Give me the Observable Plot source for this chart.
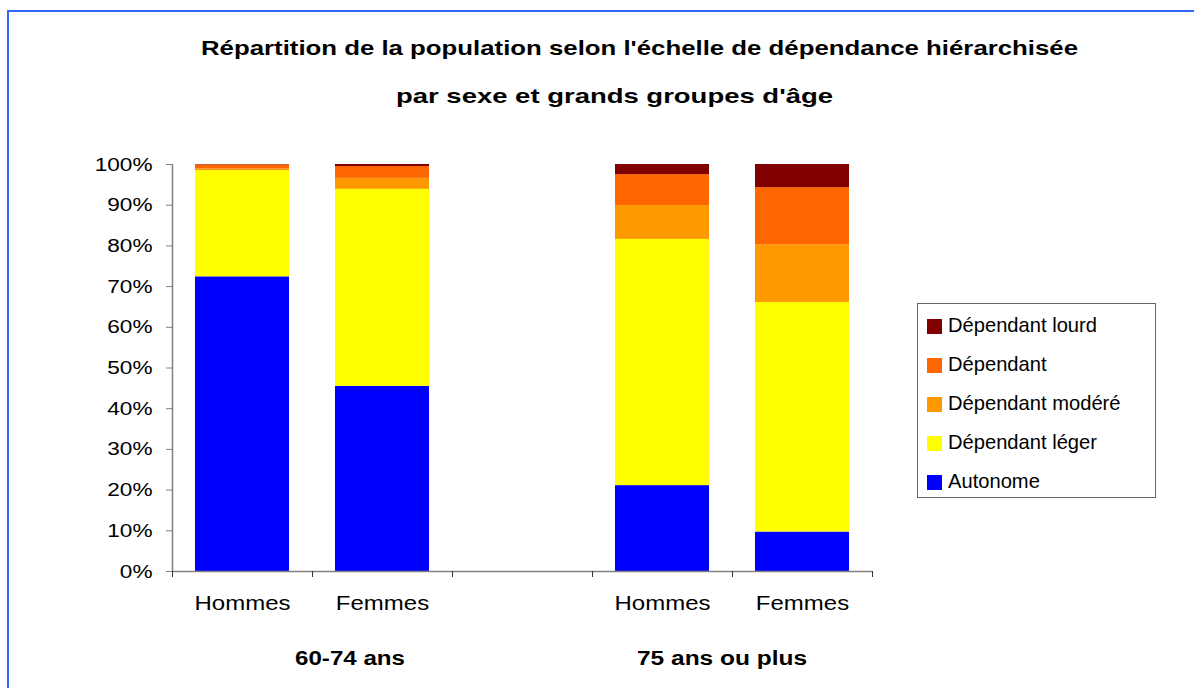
<!DOCTYPE html>
<html>
<head>
<meta charset="utf-8">
<script src="https://cdn.jsdelivr.net/npm/d3@7"></script>
<script src="https://cdn.jsdelivr.net/npm/@observablehq/plot@0.6"></script>
<style>
  html, body { margin: 0; padding: 0; background: #fff; }
  body { width: 1194px; height: 688px; position: relative; overflow: hidden;
         font-family: "Liberation Sans", Arial, sans-serif; }
  #frame { position: absolute; left: 7px; top: 10px; width: 1300px; height: 800px;
           border-top: 2px solid #3366FF; border-left: 2px solid #3366FF; z-index: 3; pointer-events: none; }
  #chart { position: absolute; left: 0; top: 0; }
  .txt { position: absolute; white-space: nowrap; line-height: 1; transform-origin: 0 50%; color: #000; z-index: 2; }
  .bold { font-weight: bold; }
  #legend { position: absolute; left: 917px; top: 303px; width: 239px; height: 195px;
            border: 1px solid #666; box-sizing: border-box; background: #fff; z-index: 2; }
  .sw { position: absolute; width: 15px; height: 15px; }
</style>
</head>
<body>
<div id="chart"></div>
<div id="frame"></div>
<script>
// ---- data ----
const groups = ["60-74 ans", "60-74 ans", "75 ans ou plus", "75 ans ou plus"];
const sexes = ["Hommes", "Femmes", "Hommes", "Femmes"];
const levels = ["Autonome", "Dépendant léger", "Dépendant modéré", "Dépendant", "Dépendant lourd"];
const colors = ["#0000FF", "#FFFF00", "#FF9900", "#FF6600", "#800000"];
const autonome  = [72.4, 45.5, 21.1, 9.7];
const leger     = [26.1, 48.4, 60.5, 56.4];
const modere    = [0.4, 2.7, 8.3, 14.2];
const dependant = [1.0, 2.9, 7.6, 14.0];
const lourd     = [0.1, 0.5, 2.5, 5.7];
const yTicks = [0, 10, 20, 30, 40, 50, 60, 70, 80, 90, 100];
const title1 = "Répartition de la population selon l'échelle de dépendance hiérarchisée";
const title2 = "par sexe et grands groupes d'âge";
const groupLabels = ["60-74 ans", "75 ans ou plus"];

// ---- build table ----
const series = [autonome, leger, modere, dependant, lourd];
const cats = sexes.map((s, i) => groups[i] + "|" + s);
const domain = [cats[0], cats[1], "gap", cats[2], cats[3]];
const rows = [];
cats.forEach((c, i) => levels.forEach((l, j) => rows.push({cat: c, level: l, value: series[j][i]})));

const W = 1194, H = 688, mL = 172, mR = 322, mT = 164, mB = 117;
const step = (W - mL - mR) / domain.length;
const axisGray = "#808080";

const plot = Plot.plot({
  width: W, height: H,
  marginLeft: mL, marginRight: mR, marginTop: mT, marginBottom: mB,
  style: {fontFamily: '"Liberation Sans", Arial, sans-serif', fontSize: "19px", background: "transparent", color: "#000"},
  x: {domain, paddingInner: 0.33, paddingOuter: 0.165, align: 0.5, label: null},
  y: {domain: [0, 100], label: null},
  color: {domain: levels, range: colors},
  marks: [
    Plot.barY(rows, {x: "cat", y: "value", fill: "level"}),
    Plot.ruleY([0], {stroke: axisGray, strokeWidth: 1.5}),
    Plot.ruleX([domain[0]], {dx: -step / 2, y1: 0, y2: 100, stroke: axisGray, strokeWidth: 1.5}),
    Plot.ruleX(domain, {x: d => d, dx: -step / 2, y1: 0, y2: 0, insetBottom: -6, stroke: "#333"}),
    Plot.ruleX([domain[domain.length - 1]], {dx: step / 2, y1: 0, y2: 0, insetBottom: -6, stroke: "#333"}),
    Plot.axisY({ticks: yTicks, tickFormat: d => d + "%", tickSize: 6, tickPadding: 14, stroke: axisGray, fontSize: 19}),
    Plot.axisX({tickSize: 0, tickPadding: 24, fontSize: 20, tickFormat: d => d === "gap" ? "" : d.split("|")[1]})
  ]
});
document.getElementById("chart").appendChild(plot);

// stretch SVG tick labels horizontally to match the wide rendering of the reference
function stretch(label, refText, targetW) {
  const texts = [...plot.querySelectorAll(`[aria-label="${label}"] text`)];
  const ref = texts.find(t => t.textContent === refText);
  if (!ref) return;
  const k = targetW / ref.getBBox().width;
  texts.forEach(t => {
    const x = +t.getAttribute("x") || 0;
    if (x) t.removeAttribute("x");
    const tr = t.getAttribute("transform") || "";
    t.setAttribute("transform", `${tr} translate(${x},0) scale(${k},1)`);
  });
}
stretch("y-axis tick label", "100%", 58);
stretch("x-axis tick label", "Hommes", 96);

// ---- HTML texts ----
function addText(str, left, cy, fs, targetW, bold) {
  const el = document.createElement("div");
  el.className = "txt" + (bold ? " bold" : "");
  el.textContent = str;
  el.style.fontSize = fs + "px";
  el.style.left = left + "px";
  el.style.top = (cy - fs / 2) + "px";
  document.body.appendChild(el);
  if (targetW) {
    const w = el.getBoundingClientRect().width;
    el.style.transform = `scaleX(${targetW / w})`;
  }
  return el;
}
addText(title1, 201, 47, 21, 877, true);
addText(title2, 396, 95, 21, 437, true);
addText(groupLabels[0], 295, 658, 20, 110, true);
addText(groupLabels[1], 637, 658, 20, 170, true);

// legend
const legend = document.createElement("div");
legend.id = "legend";
document.body.appendChild(legend);
const legendOrder = levels.slice().reverse();
const rowCy = [324, 363, 402, 441, 480];
let legendK = null;
legendOrder.forEach((l, i) => {
  const sw = document.createElement("div");
  sw.className = "sw";
  sw.style.background = colors[levels.indexOf(l)];
  sw.style.left = (927 - 918) + "px";
  sw.style.top = (rowCy[i] + 2 - 7.5 - 304) + "px";
  legend.appendChild(sw);
  const el = addText(l, 948, rowCy[i], 21, null, false);
  if (i === 0) legendK = 149 / el.getBoundingClientRect().width;
  el.style.transform = `scaleX(${legendK})`;
});
</script>
</body>
</html>
